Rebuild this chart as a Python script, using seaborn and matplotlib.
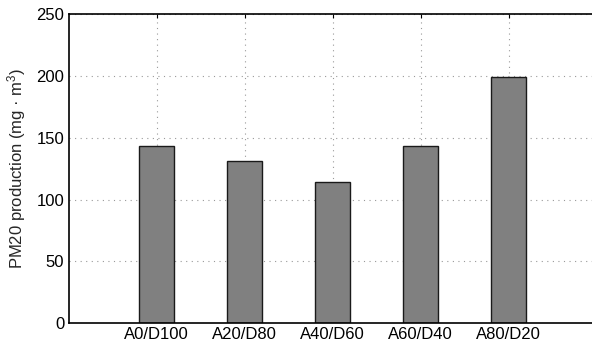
import matplotlib
matplotlib.use("Agg")
import matplotlib.pyplot as plt
import seaborn as sns
import pandas as pd

categories = ["A0/D100", "A20/D80", "A40/D60", "A60/D40", "A80/D20"]
values = [143, 131, 114, 143, 199]
yticks = [0, 50, 100, 150, 200, 250]

sns.set_style("white")
plt.rcParams['font.family'] = ['Liberation Sans', 'DejaVu Sans']
plt.rcParams['mathtext.fontset'] = 'custom'
plt.rcParams['mathtext.rm'] = 'Liberation Sans'
plt.rcParams['mathtext.default'] = 'regular'

df = pd.DataFrame({"cat": categories, "val": values})

fig = plt.figure(figsize=(5.92, 3.47), dpi=100)
W, H = 592, 347
ax = fig.add_axes([68.5 / W, (H - 323.3) / H, 528 / W, (323.3 - 14) / H])

sns.barplot(data=df, x="cat", y="val", ax=ax, color="#808080",
            edgecolor="#1a1a1a", linewidth=1.0, width=0.4, saturation=1)
for p in ax.patches:
    p.set_facecolor("#808080")

ax.set_xlim(-1, 5)
ax.set_ylim(0, 250)
ax.set_yticks(yticks)
ax.set_yticklabels([str(t) for t in yticks])
ax.set_axisbelow(True)
ax.grid(True, linestyle=(0, (1, 4)), color="#999999", linewidth=0.8)
ax.set_xlabel("")
ax.set_ylabel("PM20 production (mg · m$^{3}$)", fontsize=12, labelpad=6)
ax.tick_params(axis="both", direction="in", length=3, labelsize=12,
               top=True, right=True, colors="black", pad=3)
for s in ax.spines.values():
    s.set_color("black")
    s.set_linewidth(1.2)

fig.savefig("out.png", dpi=100)
